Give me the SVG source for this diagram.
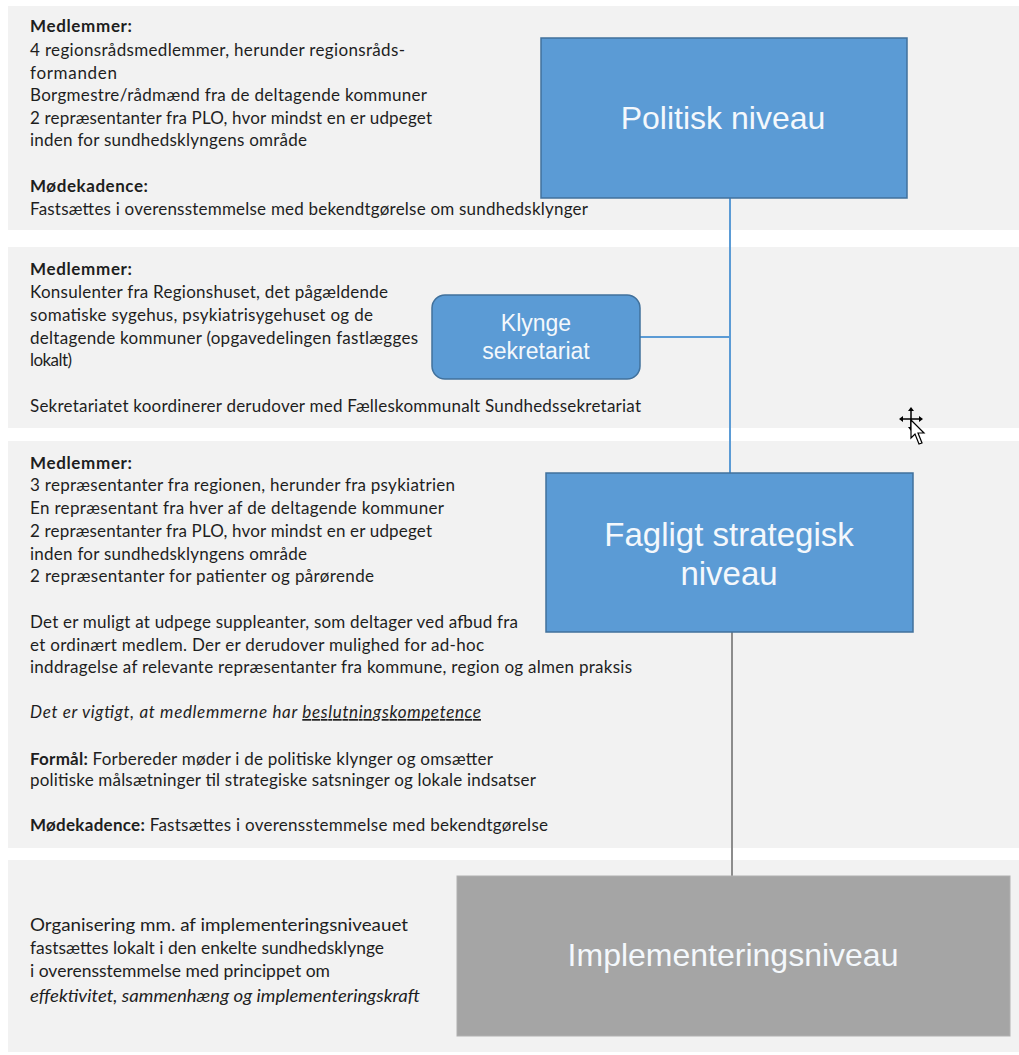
<svg xmlns="http://www.w3.org/2000/svg" width="1019" height="1055" viewBox="0 0 1019 1055">
<style>
.band{fill:#f2f2f2}
.t{font-family:Lato,"Open Sans",sans-serif;font-size:17px;fill:#1e1e1e}
.b{font-weight:bold}
.i{font-style:italic}
.c{font-family:Lato,"Open Sans",sans-serif;font-size:17.5px;fill:#1e1e1e}
.box{fill:#5b9bd5;stroke:#41719c;stroke-width:1.5}
.gbox{fill:#a5a5a5;stroke:#b0b0b0;stroke-width:1}
.bt{font-family:"Liberation Sans",Arial,sans-serif;fill:#f4f8fc;text-anchor:middle}
.conn{stroke:#5b9bd5;stroke-width:2;fill:none}
.gconn{stroke:#8c8c8c;stroke-width:2;fill:none}
</style>
<rect width="1019" height="1055" fill="#ffffff"/>
<g id="bands">
<rect class="band" x="8" y="6" width="1011" height="224"/>
<rect class="band" x="8" y="247" width="1011" height="181"/>
<rect class="band" x="8" y="441" width="1011" height="407"/>
<rect class="band" x="8" y="860" width="1011" height="192"/>
</g>
<g id="connectors">
<line class="conn" x1="730" y1="198" x2="730" y2="473"/>
<line class="conn" x1="640" y1="337" x2="730" y2="337"/>
<line class="gconn" x1="732" y1="632" x2="732" y2="876"/>
</g>
<g id="text-politisk">
<text class="t b" x="30" y="32" textLength="102">Medlemmer:</text>
<text class="t" x="30" y="56" textLength="375">4 regionsrådsmedlemmer, herunder regionsråds-</text>
<text class="t" x="30" y="79" textLength="87">formanden</text>
<text class="t" x="30" y="101" textLength="397">Borgmestre/rådmænd fra de deltagende kommuner</text>
<text class="t" x="30" y="124" textLength="402">2 repræsentanter fra PLO, hvor mindst en er udpeget</text>
<text class="t" x="30" y="146" textLength="277">inden for sundhedsklyngens område</text>
<text class="t b" x="30" y="192" textLength="118">Mødekadence:</text>
<text class="t" x="30" y="215" textLength="558">Fastsættes i overensstemmelse med bekendtgørelse om sundhedsklynger</text>
</g>
<g id="text-sekretariat">
<text class="t b" x="30" y="275" textLength="102">Medlemmer:</text>
<text class="t" x="30" y="298" textLength="358">Konsulenter fra Regionshuset, det pågældende</text>
<text class="t" x="30" y="321" textLength="343">somatiske sygehus, psykiatrisygehuset og de</text>
<text class="t" x="30" y="344" textLength="388">deltagende kommuner (opgavedelingen fastlægges</text>
<text class="t" x="30" y="366" textLength="42">lokalt)</text>
<text class="t" x="30" y="412" textLength="611">Sekretariatet koordinerer derudover med Fælleskommunalt Sundhedssekretariat</text>
</g>
<g id="text-fagligt">
<text class="t b" x="30" y="469" textLength="102">Medlemmer:</text>
<text class="t" x="30" y="491" textLength="425">3 repræsentanter fra regionen, herunder fra psykiatrien</text>
<text class="t" x="30" y="514" textLength="414">En repræsentant fra hver af de deltagende kommuner</text>
<text class="t" x="30" y="537" textLength="402">2 repræsentanter fra PLO, hvor mindst en er udpeget</text>
<text class="t" x="30" y="560" textLength="277">inden for sundhedsklyngens område</text>
<text class="t" x="30" y="582" textLength="344">2 repræsentanter for patienter og pårørende</text>
<text class="t" x="30" y="628" textLength="488">Det er muligt at udpege suppleanter, som deltager ved afbud fra</text>
<text class="t" x="30" y="651" textLength="454">et ordinært medlem. Der er derudover mulighed for ad-hoc</text>
<text class="t" x="30" y="673" textLength="602">inddragelse af relevante repræsentanter fra kommune, region og almen praksis</text>
<text class="t i" x="30" y="718" textLength="451">Det er vigtigt, at medlemmerne har <tspan text-decoration="underline">beslutningskompetence</tspan></text>
<text class="t" x="30" y="765" textLength="463"><tspan class="b">Formål:</tspan> Forbereder møder i de politiske klynger og omsætter</text>
<text class="t" x="30" y="786" textLength="506">politiske målsætninger til strategiske satsninger og lokale indsatser</text>
<text class="t" x="30" y="831" textLength="518"><tspan class="b">Mødekadence:</tspan> Fastsættes i overensstemmelse med bekendtgørelse</text>
</g>
<g id="text-implementering">
<text class="c" x="30" y="931" textLength="378" lengthAdjust="spacingAndGlyphs">Organisering mm. af implementeringsniveauet</text>
<text class="c" x="30" y="954" textLength="354" lengthAdjust="spacingAndGlyphs">fastsættes lokalt i den enkelte sundhedsklynge</text>
<text class="c" x="30" y="977" textLength="300" lengthAdjust="spacingAndGlyphs">i overensstemmelse med princippet om</text>
<text class="c i" x="30" y="1002" textLength="390" lengthAdjust="spacingAndGlyphs">effektivitet, sammenhæng og implementeringskraft</text>
</g>
<g id="node-politisk">
<rect class="box" x="541" y="38" width="366" height="160"/>
<text class="bt" x="723" y="129" font-size="32">Politisk niveau</text>
</g>
<g id="node-klynge">
<rect class="box" x="432" y="295" width="208" height="84" rx="13"/>
<text class="bt" x="536" y="331" font-size="23">Klynge</text>
<text class="bt" x="536" y="359" font-size="23">sekretariat</text>
</g>
<g id="node-fagligt">
<rect class="box" x="546" y="473" width="367" height="159"/>
<text class="bt" x="729" y="546" font-size="33">Fagligt strategisk</text>
<text class="bt" x="729" y="585" font-size="33">niveau</text>
</g>
<g id="node-implementering">
<rect class="gbox" x="457" y="876" width="553" height="160"/>
<text class="bt" x="733" y="966" font-size="32">Implementeringsniveau</text>
</g>
<g id="cursor">
<path d="M911 410 L911 428 M902 419 L920 419" stroke="#000" stroke-width="1.5"/>
<path d="M911 407 L908 411 L914 411 Z M911 431 L908 427 L914 427 Z M899 419 L903 416 L903 422 Z M923 419 L919 416 L919 422 Z" fill="#000"/>
<path d="M911 420 L911 438 L915 434 L919 444 L922 443 L918 433 L924 433 Z" fill="#fff" stroke="#000" stroke-width="1.2"/>
</g>
</svg>
